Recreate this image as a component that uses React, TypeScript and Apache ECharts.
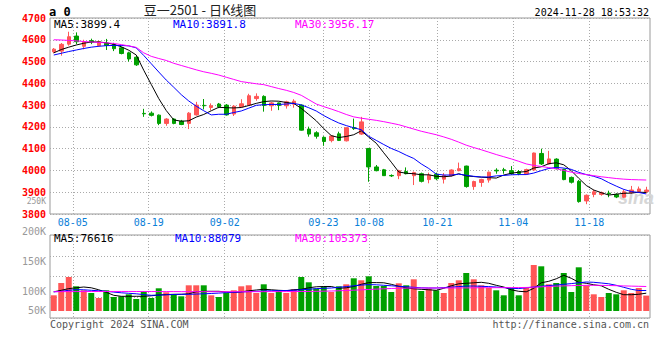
import React, { useEffect, useRef } from "react";
import * as echarts from "echarts";

const dates = [
  "07-31","08-01","08-02","08-05","08-06","08-07","08-08","08-09","08-12","08-13",
  "08-14","08-15","08-16","08-19","08-20","08-21","08-22","08-23","08-26","08-27",
  "08-28","08-29","08-30","09-02","09-03","09-04","09-05","09-06","09-09","09-10",
  "09-11","09-12","09-13","09-18","09-19","09-20","09-23","09-24","09-25","09-26",
  "09-27","09-30","10-08","10-09","10-10","10-11","10-14","10-15","10-16","10-17",
  "10-18","10-21","10-22","10-23","10-24","10-25","10-28","10-29","10-30","10-31",
  "11-01","11-04","11-05","11-06","11-07","11-08","11-11","11-12","11-13","11-14",
  "11-15","11-18","11-19","11-20","11-21","11-22","11-25","11-26","11-27","11-28",
];

const opens = [
  4545,4548,4580,4617,4570,4596,4573,4584,4578,4563,
  4540,4520,4262,4263,4254,4216,4236,4226,4216,4255,
  4299,4289,4305,4300,4259,4293,4300,4330,4340,4297,
  4310,4297,4304,4300,4190,4173,4152,4137,4168,4136,
  4197,4167,4101,4016,4003,3977,3976,3995,3976,3985,
  3958,3983,3960,3976,3999,4020,3926,3945,3956,4001,
  4003,3999,3995,3984,4002,4078,4030,4052,4005,3968,
  3950,3860,3890,3890,3896,3890,3877,3898,3903,3903,
];
const closes = [
  4557,4579,4614,4591,4590,4590,4591,4574,4559,4537,
  4512,4485,4260,4253,4216,4236,4216,4211,4263,4300,
  4297,4297,4292,4255,4295,4306,4343,4340,4298,4310,
  4298,4315,4318,4185,4167,4157,4133,4158,4138,4196,
  4192,4223,4016,3999,3976,3975,3999,3985,3990,3950,
  3978,3962,3977,4002,4008,3926,3949,3958,3992,3998,
  4000,3986,3986,4004,4080,4030,4053,4008,3958,3946,
  3857,3886,3902,3898,3893,3878,3902,3910,3915,3910,
];
const lows = [
  4538,4527,4573,4580,4556,4580,4568,4553,4548,4533,
  4500,4480,4246,4248,4208,4205,4212,4208,4190,4252,
  4280,4276,4286,4252,4250,4290,4296,4320,4270,4274,
  4277,4284,4288,4183,4155,4146,4113,4129,4135,4133,
  4186,4163,3948,3996,3975,3970,3960,3982,3933,3945,
  3941,3955,3940,3972,3996,3921,3911,3925,3944,3985,
  3985,3980,3978,3980,3998,4025,4027,4005,3955,3940,
  3852,3845,3877,3884,3877,3873,3873,3893,3898,3895,
];
const highs = [
  4562,4585,4637,4634,4600,4605,4596,4604,4586,4568,
  4545,4525,4283,4271,4257,4240,4240,4232,4268,4315,
  4328,4308,4310,4305,4300,4327,4352,4354,4345,4315,
  4312,4320,4327,4303,4201,4180,4157,4162,4178,4198,
  4238,4246,4103,4025,4007,3982,4003,4014,3995,3990,
  3990,3990,3988,4005,4036,4022,3953,3962,3995,4010,
  4012,4020,4002,4008,4082,4100,4090,4056,4008,3972,
  3956,3890,3912,3903,3907,3895,3912,3929,3926,3925,
];

const ma5 = [
  4540,4555,4566,4576,4584,4590,4590,4586,4579,4568,
  4552,4530,4460,4395,4330,4275,4232,4226,4228,4245,
  4257,4274,4290,4288,4287,4289,4298,4308,4316,4319,
  4318,4312,4308,4285,4257,4228,4192,4160,4151,4156,
  4164,4182,4153,4125,4081,4038,3993,3987,3985,3980,
  3980,3973,3971,3974,3985,3975,3972,3969,3967,3965,
  3979,3987,3992,3995,4011,4017,4031,4035,4026,3999,
  3964,3931,3910,3898,3887,3891,3895,3896,3900,3899,
];
const ma10 = [
  4530,4538,4546,4553,4560,4566,4570,4573,4574,4574,
  4572,4563,4528,4490,4452,4415,4382,4348,4319,4295,
  4274,4255,4258,4258,4266,4273,4286,4299,4302,4303,
  4303,4305,4308,4301,4288,4273,4252,4234,4218,4206,
  4196,4187,4157,4138,4119,4101,4087,4070,4055,4030,
  4009,3983,3979,3979,3983,3978,3973,3970,3970,3975,
  3977,3980,3981,3981,3988,3999,4009,4014,4011,4005,
  3991,3981,3973,3962,3944,3928,3913,3903,3899,3892,
];
const ma30 = [
  4600,4599,4597,4595,4592,4590,4588,4586,4583,4578,
  4572,4565,4540,4524,4514,4505,4492,4482,4472,4462,
  4453,4446,4438,4428,4418,4408,4403,4398,4394,4385,
  4376,4368,4358,4345,4325,4305,4293,4282,4270,4257,
  4246,4240,4235,4230,4224,4217,4210,4200,4190,4180,
  4172,4164,4154,4143,4130,4116,4105,4095,4084,4073,
  4063,4053,4042,4030,4023,4018,4013,4008,4000,3992,
  3986,3981,3976,3971,3967,3963,3960,3958,3957,3956,
];

const volumes = [
  67500,120400,146200,106200,89000,77400,55900,89000,60200,63200,
  71800,51600,84700,55900,97600,80400,71800,63200,110500,110500,
  110500,67500,60200,77400,89000,106200,110500,77400,114800,77400,
  86000,77400,93300,146200,123400,96300,103200,81700,106200,114800,
  140600,132000,149200,107500,107500,81700,119100,110500,136300,86000,
  96300,89000,77400,120400,132000,163400,136300,110500,98900,89000,
  67500,98900,67500,98900,197800,192200,114800,120400,163400,81700,
  187900,110500,71800,60200,77400,71800,89000,77400,98900,66200,
];
const volMa5 = [
  82600,89000,96300,99800,103200,99800,91200,80400,67500,63200,
  63200,63200,63200,65400,68800,70500,71800,71800,74000,82600,
  84700,84700,84700,81700,79100,82600,86900,90300,93300,91200,
  89000,87600,91200,93300,99800,104100,105400,105400,97600,99800,
  105400,114800,122100,122100,121300,114800,106200,99800,95500,93300,
  91200,89000,97600,108400,117000,119100,121300,123400,119100,110500,
  103200,91200,84700,82600,97600,121300,127700,138500,153500,140600,
  123400,119100,112700,108400,93300,80400,70000,70000,72000,76600,
];
const volMa10 = [
  82600,84700,89000,92000,91200,89000,86900,84700,81300,78300,
  76100,74000,70500,67500,68400,69700,71000,71800,71800,72700,
  74000,75300,77000,79100,80400,81700,83400,84700,86000,86900,
  87700,88200,89000,91200,93300,96300,97600,98900,101900,104900,
  108400,111400,113500,112700,110500,108400,106200,104100,101900,99800,
  98900,98900,100600,102800,104900,107100,107500,106200,104900,103200,
  100600,97600,96300,99800,103200,106200,109200,111800,114800,117800,
  121300,124700,123400,120400,117000,110500,101900,93300,88100,88100,
];
const volMa30 = [
  83000,83200,83400,83500,83600,83700,83800,83900,84000,84000,
  84000,83900,83800,83700,83600,83500,83400,83300,83200,83200,
  83100,83000,83000,82900,82900,83000,83000,83100,83200,83300,
  83400,83500,83600,83800,84000,84500,85200,86000,87000,88200,
  89500,91000,92500,94000,95500,96800,97800,98500,98900,99000,
  99000,99000,99000,99000,99200,99500,99800,100000,100200,100300,
  100400,100600,100800,101200,102500,104000,105500,106800,108000,109000,
  109800,110300,110500,110200,109600,108800,107900,107000,106200,105400,
];

const xTickLabels = ["08-05", "08-19", "09-02", "09-23", "10-08", "10-21", "11-04", "11-18"];
const priceMin = 3800;
const priceMax = 4700;
const priceStep = 100;
const volTickLabels = ["250K", "200K", "150K", "100K", "50K"];
const priceMaLabels = ["MA5:3899.4", "MA10:3891.8", "MA30:3956.17"];
const volMaLabels = ["MA5:76616", "MA10:88079", "MA30:105373"];
const titleText = "豆一2501 - 日K线图";
const timeText = "2024-11-28 18:53:32";
const badgeText = "a 0";
const copyrightText = "Copyright 2024 SINA.COM";
const urlText = "http://finance.sina.com.cn";
const watermarkText = "sina";

// styles
const UP = "#ff5656";
const DOWN = "#00a000";
const MA_COLORS = ["#000000", "#0000ff", "#ff00ff"];
const MONO = "DejaVu Sans Mono";
const GRID_LINE = { color: "#aaaaaa", type: [1, 2] as number[], width: 1 };
const volLabelY = [201.2, 231, 261, 291, 310];
const volLabelSize = [8, 10, 10, 10, 10];
const maLabelX = [54, 173, 295];

export default function App() {
  const ref = useRef<HTMLDivElement>(null);

  useEffect(() => {
    const chart = echarts.init(ref.current!, null, { renderer: "svg" });
    const isTick = (i: number) => xTickLabels.indexOf(dates[i]) >= 0;

    const candleData = dates.map((_, i) => [opens[i], closes[i], lows[i], highs[i]]);
    const volData = volumes.map((v, i) => ({
      value: v,
      itemStyle: { color: closes[i] >= opens[i] ? UP : DOWN },
    }));

    const lineSeries = (name: string, data: number[], color: string, xi: number, yi: number) => ({
      name,
      type: "line",
      xAxisIndex: xi,
      yAxisIndex: yi,
      data,
      symbol: "none",
      showSymbol: false,
      smooth: false,
      lineStyle: { color, width: 1 },
      z: 5,
      silent: true,
    });

    const texts: any[] = [];
    texts.push({
      type: "text", x: 49, y: 12,
      style: { text: badgeText, fill: "#000", font: `bold 12px ${MONO}`, align: "left", verticalAlign: "middle" },
    });
    texts.push({
      type: "text", x: 200, y: 9,
      style: { text: titleText, fill: "#222", font: `13px "Noto Sans CJK SC"`, align: "center", verticalAlign: "middle" },
    });
    texts.push({
      type: "text", x: 649, y: 12,
      style: { text: timeText, fill: "#000", font: `10px ${MONO}`, align: "right", verticalAlign: "middle" },
    });
    priceMaLabels.forEach((t, k) =>
      texts.push({
        type: "text", x: maLabelX[k], y: 24, z: 10,
        style: { text: t, fill: MA_COLORS[k], font: `11px ${MONO}`, align: "left", verticalAlign: "middle" },
      })
    );
    volMaLabels.forEach((t, k) =>
      texts.push({
        type: "text", x: maLabelX[k] + (k === 1 ? 2 : 0), y: 238.5, z: 10,
        style: { text: t, fill: MA_COLORS[k], font: `11px ${MONO}`, align: "left", verticalAlign: "middle" },
      })
    );
    volTickLabels.forEach((t, k) =>
      texts.push({
        type: "text", x: 46, y: volLabelY[k],
        style: {
          text: t, fill: "#999999", font: `${volLabelSize[k]}px ${MONO}`,
          align: "right", verticalAlign: "middle",
        },
      })
    );
    texts.push({
      type: "text", x: 50, y: 324,
      style: { text: copyrightText, fill: "#555", font: `10px ${MONO}`, align: "left", verticalAlign: "middle" },
    });
    texts.push({
      type: "text", x: 649, y: 324,
      style: { text: urlText, fill: "#555", font: `10px ${MONO}`, align: "right", verticalAlign: "middle" },
    });
    texts.push({
      type: "text", x: 618, y: 198, z: 0,
      style: { text: watermarkText, fill: "#d6d6d6", font: `italic bold 18px "Liberation Sans"`, align: "left", verticalAlign: "middle" },
    });

    const option: any = {
      animation: false,
      backgroundColor: "#ffffff",
      grid: [
        { left: 50, right: 10, top: 18, height: 196, show: true, borderColor: "#999", borderWidth: 1, outerBoundsMode: "none" },
        { left: 50, right: 10, top: 235, height: 83, show: true, borderColor: "#999", borderWidth: 1, outerBoundsMode: "none" },
      ],
      xAxis: [
        { type: "category", gridIndex: 0, data: dates, boundaryGap: true, show: false },
        {
          type: "category", gridIndex: 0, data: dates, boundaryGap: false, position: "bottom",
          axisLine: { show: false }, axisTick: { show: false },
          axisLabel: {
            show: true, interval: (i: number) => isTick(i), color: "#0a80d8",
            fontFamily: MONO, fontSize: 10, margin: 3,
          },
          splitLine: { show: true, interval: (i: number) => isTick(i), lineStyle: GRID_LINE },
        },
        { type: "category", gridIndex: 1, data: dates, boundaryGap: true, show: false },
        {
          type: "category", gridIndex: 1, data: dates, boundaryGap: false,
          axisLine: { show: false }, axisTick: { show: false }, axisLabel: { show: false },
          splitLine: { show: true, interval: (i: number) => isTick(i), lineStyle: GRID_LINE },
        },
      ],
      yAxis: [
        {
          type: "value", gridIndex: 0, min: priceMin, max: priceMax, interval: priceStep,
          axisLine: { show: false }, axisTick: { show: false },
          axisLabel: {
            color: "#ff0000", fontFamily: MONO, fontSize: 10, fontWeight: "bold", margin: 4,
            lineHeight: 9, padding: [0, 0, 4, 0], showMinLabel: true, showMaxLabel: true,
            formatter: (v: number) => String(v),
          },
          splitLine: { show: true, lineStyle: GRID_LINE },
        },
        {
          type: "value", gridIndex: 1, min: -30100, max: 326800, show: false,
          splitLine: { show: false },
        },
        {
          type: "value", gridIndex: 1, min: 0, max: 4, interval: 1,
          axisLine: { show: false }, axisTick: { show: false }, axisLabel: { show: false },
          splitLine: { show: true, lineStyle: GRID_LINE },
        },
      ],
      graphic: texts,
      series: [
        {
          type: "candlestick", xAxisIndex: 0, yAxisIndex: 0, data: candleData,
          barWidth: 4,
          itemStyle: { color: UP, color0: DOWN, borderColor: UP, borderColor0: DOWN, borderWidth: 1 },
          z: 3, silent: true,
        },
        lineSeries("MA5", ma5, MA_COLORS[0], 0, 0),
        lineSeries("MA10", ma10, MA_COLORS[1], 0, 0),
        lineSeries("MA30", ma30, MA_COLORS[2], 0, 0),
        {
          type: "bar", xAxisIndex: 2, yAxisIndex: 1, data: volData, barWidth: 6, z: 3, silent: true,
        },
        lineSeries("VMA5", volMa5, MA_COLORS[0], 2, 1),
        lineSeries("VMA10", volMa10, MA_COLORS[1], 2, 1),
        lineSeries("VMA30", volMa30, MA_COLORS[2], 2, 1),
      ],
    };

    chart.setOption(option);
    return () => chart.dispose();
  }, []);

  return (
    <div
      ref={ref}
      style={{ position: "fixed", left: 0, top: 0, width: 660, height: 360, background: "#fff" }}
    />
  );
}
